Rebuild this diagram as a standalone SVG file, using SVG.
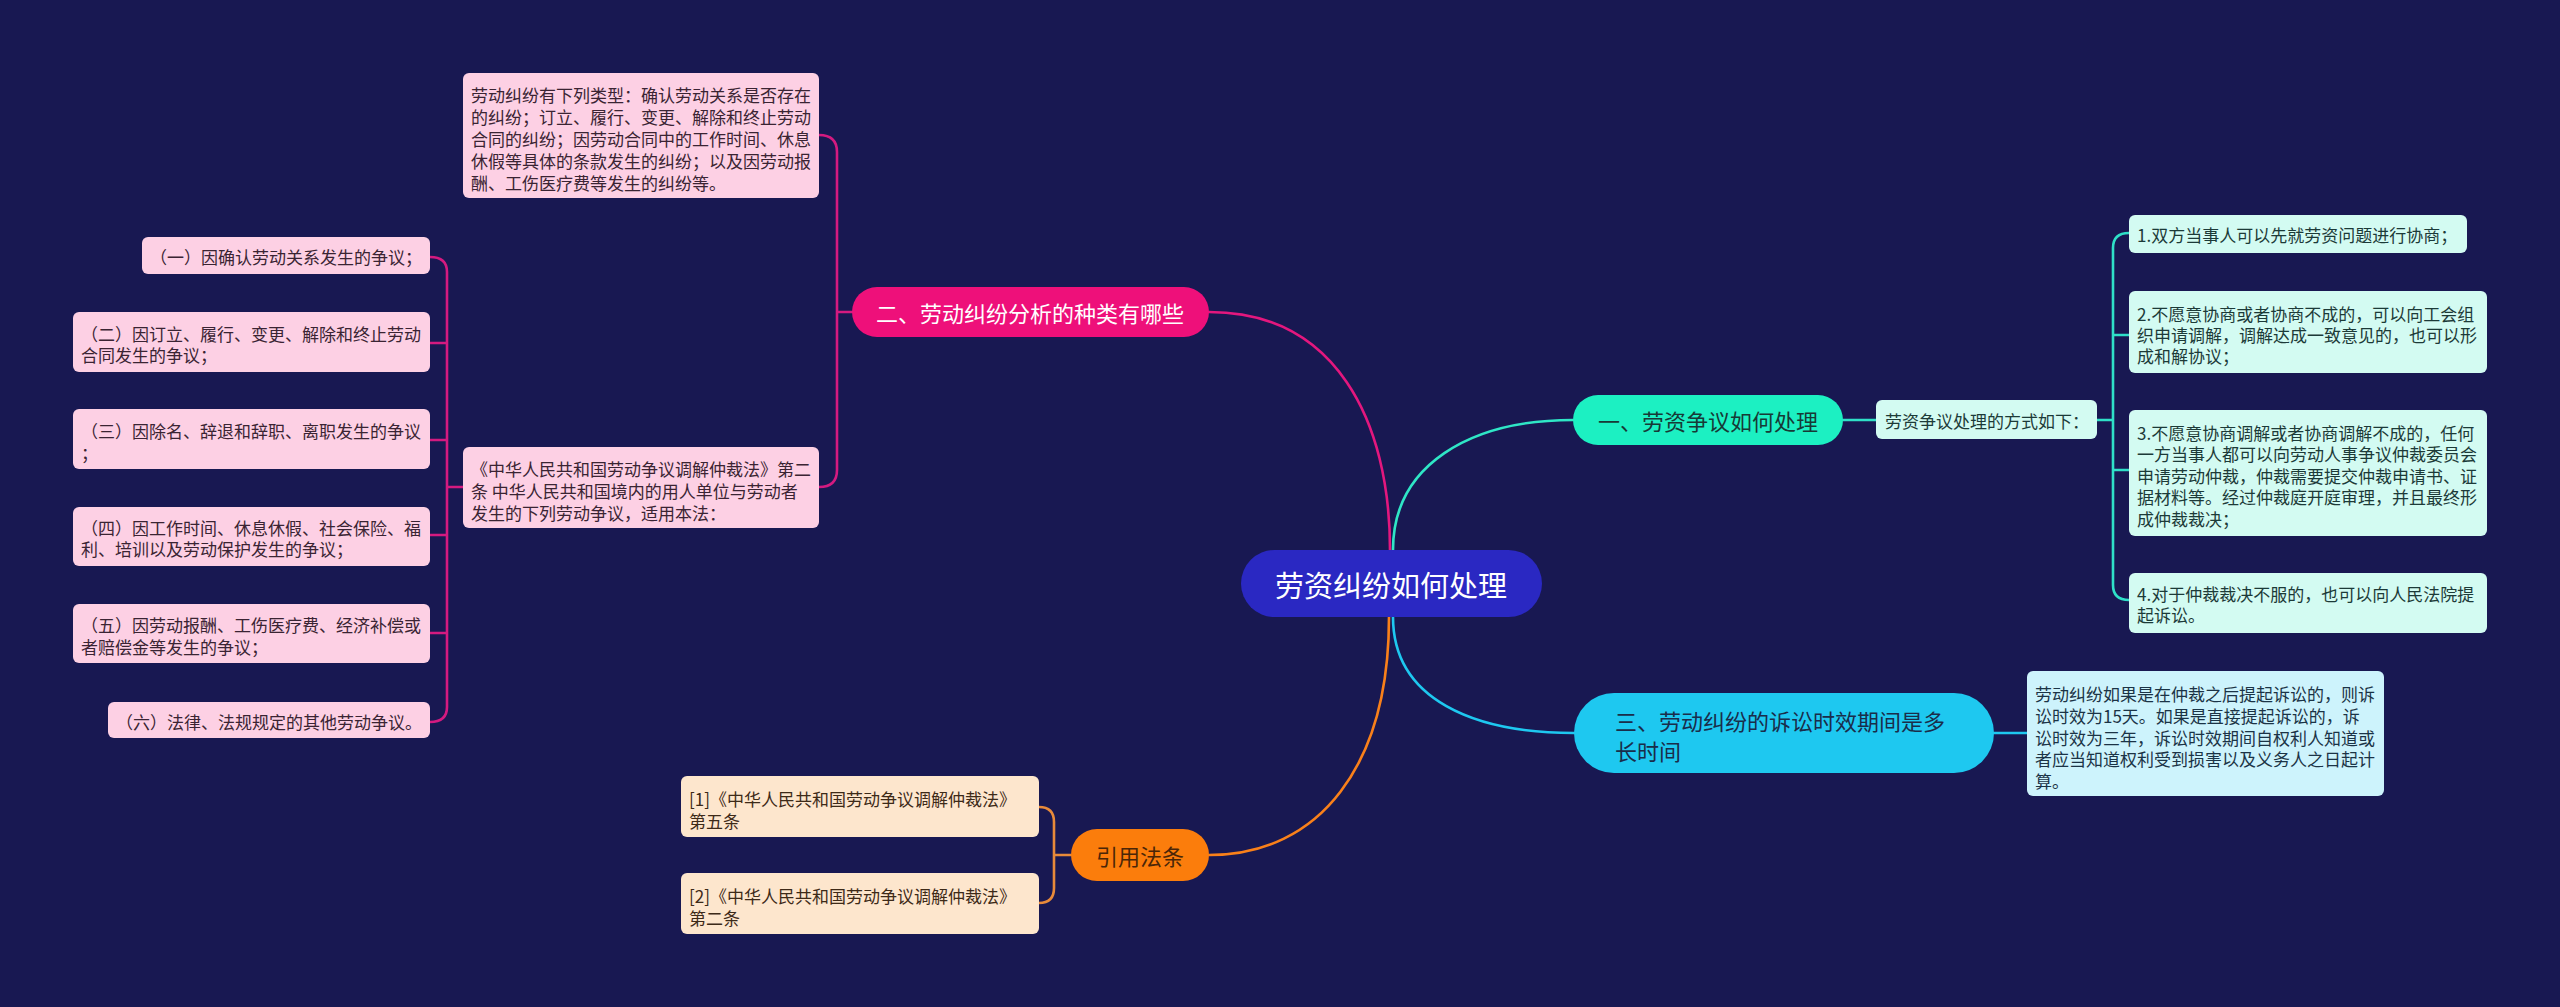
<svg xmlns="http://www.w3.org/2000/svg" width="2560" height="1007" viewBox="0 0 2560 1007">
<style>
text{font-family:"Noto Sans CJK SC","Noto Sans",sans-serif;dominant-baseline:central}
.leaf{font-size:17px}
.pk{fill:#fdd0e4}
.pkt{fill:#3a2433}
.tl{fill:#d3fbf2}
.tlt{fill:#1c3a38}
.cy{fill:#cdf3fc}
.cyt{fill:#1b3346}
.or{fill:#fde6cd}
.ort{fill:#3d2a18}
.ln{fill:none;stroke-width:2.6;stroke-linecap:round}
</style>
<rect width="2560" height="1007" fill="#181852"/>
<g id="connectors">
<path class="ln" stroke="#e3177e" stroke-width="3" d="M1209,312 C1335,312 1390,420 1390,550"/>
<path class="ln" stroke="#2fe6c6" stroke-width="3" d="M1393,550 C1393,465 1470,420 1573,420"/>
<path class="ln" stroke="#1ec8f0" stroke-width="3" d="M1393,617 C1393,700 1475,733 1574,733"/>
<path class="ln" stroke="#f9801a" stroke-width="3" d="M1389,617 C1389,765 1320,855 1209,855"/>
<path class="ln" stroke="#d41a80" d="M819,135 Q837,135 837,152 L837,470 Q837,487 819,487 M837,312 H852"/>
<path class="ln" stroke="#d41a80" d="M430,257 Q447,257 447,272 L447,707 Q447,722 430,722 M430,343 H447 M430,440 H447 M430,535 H447 M430,633 H447 M447,487 H463"/>
<path class="ln" stroke="#2fe0c8" d="M1843,420 H1876 M2097,420 H2113 M2129,233 Q2113,233 2113,248 L2113,585 Q2113,600 2129,600 M2113,335 H2129 M2113,470 H2129"/>
<path class="ln" stroke="#1ec8f0" d="M1994,733 H2027"/>
<path class="ln" stroke="#e88a3a" d="M1039,807 Q1054,807 1054,822 L1054,888 Q1054,903 1039,903 M1054,855 H1071"/>
</g>
<g id="root">
<rect x="1241" y="550" width="301" height="67" rx="33.5" fill="#2a28c2"/>
<text x="1391" y="584" font-size="29" fill="#ffffff" text-anchor="middle">劳资纠纷如何处理</text>
</g>
<g id="n1">
<rect x="1573" y="395" width="270" height="50" rx="25" fill="#1cf0c2"/>
<text x="1708" y="420" font-size="22" fill="#173a36" text-anchor="middle">一、劳资争议如何处理</text>
</g>
<g id="n1a">
<rect class="tl" x="1876" y="400" width="221" height="39" rx="6"/>
<text class="leaf tlt" x="1885" y="420">劳资争议处理的方式如下：</text>
</g>
<g id="n1a1">
<rect class="tl" x="2129" y="215" width="338" height="38" rx="6"/>
<text class="leaf tlt" x="2137" y="234">1.双方当事人可以先就劳资问题进行协商；</text>
</g>
<g id="n1a2">
<rect class="tl" x="2129" y="291" width="358" height="82" rx="6"/>
<text class="leaf tlt" x="2137" y="313">2.不愿意协商或者协商不成的，可以向工会组</text>
<text class="leaf tlt" x="2137" y="334">织申请调解，调解达成一致意见的，也可以形</text>
<text class="leaf tlt" x="2137" y="355">成和解协议；</text>
</g>
<g id="n1a3">
<rect class="tl" x="2129" y="410" width="358" height="126" rx="6"/>
<text class="leaf tlt" x="2137" y="432">3.不愿意协商调解或者协商调解不成的，任何</text>
<text class="leaf tlt" x="2137" y="453">一方当事人都可以向劳动人事争议仲裁委员会</text>
<text class="leaf tlt" x="2137" y="475">申请劳动仲裁，仲裁需要提交仲裁申请书、证</text>
<text class="leaf tlt" x="2137" y="496">据材料等。经过仲裁庭开庭审理，并且最终形</text>
<text class="leaf tlt" x="2137" y="518">成仲裁裁决；</text>
</g>
<g id="n1a4">
<rect class="tl" x="2129" y="573" width="358" height="60" rx="6"/>
<text class="leaf tlt" x="2137" y="593">4.对于仲裁裁决不服的，也可以向人民法院提</text>
<text class="leaf tlt" x="2137" y="614">起诉讼。</text>
</g>
<g id="n2">
<rect x="852" y="287" width="357" height="50" rx="25" fill="#ee107a"/>
<text x="1030" y="312" font-size="22" fill="#ffffff" text-anchor="middle">二、劳动纠纷分析的种类有哪些</text>
</g>
<g id="n2a">
<rect class="pk" x="463" y="73" width="356" height="125" rx="6"/>
<text class="leaf pkt" x="471" y="94">劳动纠纷有下列类型：确认劳动关系是否存在</text>
<text class="leaf pkt" x="471" y="116">的纠纷；订立、履行、变更、解除和终止劳动</text>
<text class="leaf pkt" x="471" y="138">合同的纠纷；因劳动合同中的工作时间、休息</text>
<text class="leaf pkt" x="471" y="160">休假等具体的条款发生的纠纷；以及因劳动报</text>
<text class="leaf pkt" x="471" y="182">酬、工伤医疗费等发生的纠纷等。</text>
</g>
<g id="n2b">
<rect class="pk" x="463" y="447" width="356" height="81" rx="6"/>
<text class="leaf pkt" x="471" y="468">《中华人民共和国劳动争议调解仲裁法》第二</text>
<text class="leaf pkt" x="471" y="490">条 中华人民共和国境内的用人单位与劳动者</text>
<text class="leaf pkt" x="471" y="512">发生的下列劳动争议，适用本法：</text>
</g>
<g id="n2b1">
<rect class="pk" x="142" y="237" width="288" height="37" rx="6"/>
<text class="leaf pkt" x="150" y="256">（一）因确认劳动关系发生的争议；</text>
</g>
<g id="n2b2">
<rect class="pk" x="73" y="312" width="357" height="60" rx="6"/>
<text class="leaf pkt" x="81" y="333">（二）因订立、履行、变更、解除和终止劳动</text>
<text class="leaf pkt" x="81" y="354">合同发生的争议；</text>
</g>
<g id="n2b3">
<rect class="pk" x="73" y="409" width="357" height="60" rx="6"/>
<text class="leaf pkt" x="81" y="430">（三）因除名、辞退和辞职、离职发生的争议</text>
<text class="leaf pkt" x="81" y="452">；</text>
</g>
<g id="n2b4">
<rect class="pk" x="73" y="507" width="357" height="59" rx="6"/>
<text class="leaf pkt" x="81" y="527">（四）因工作时间、休息休假、社会保险、福</text>
<text class="leaf pkt" x="81" y="548">利、培训以及劳动保护发生的争议；</text>
</g>
<g id="n2b5">
<rect class="pk" x="73" y="604" width="357" height="59" rx="6"/>
<text class="leaf pkt" x="81" y="624">（五）因劳动报酬、工伤医疗费、经济补偿或</text>
<text class="leaf pkt" x="81" y="646">者赔偿金等发生的争议；</text>
</g>
<g id="n2b6">
<rect class="pk" x="108" y="702" width="322" height="36" rx="6"/>
<text class="leaf pkt" x="116" y="721">（六）法律、法规规定的其他劳动争议。</text>
</g>
<g id="n3">
<rect x="1574" y="693" width="420" height="80" rx="40" fill="#1ec8f0"/>
<text x="1615" y="720" font-size="22" fill="#1a2d4a">三、劳动纠纷的诉讼时效期间是多</text>
<text x="1615" y="750" font-size="22" fill="#1a2d4a">长时间</text>
</g>
<g id="n3a">
<rect class="cy" x="2027" y="671" width="357" height="125" rx="6"/>
<text class="leaf cyt" x="2035" y="693">劳动纠纷如果是在仲裁之后提起诉讼的，则诉</text>
<text class="leaf cyt" x="2035" y="715">讼时效为15天。如果是直接提起诉讼的，诉</text>
<text class="leaf cyt" x="2035" y="737">讼时效为三年，诉讼时效期间自权利人知道或</text>
<text class="leaf cyt" x="2035" y="758">者应当知道权利受到损害以及义务人之日起计</text>
<text class="leaf cyt" x="2035" y="780">算。</text>
</g>
<g id="n4">
<rect x="1071" y="829" width="138" height="52" rx="26" fill="#fb7d0c"/>
<text x="1140" y="855" font-size="22" fill="#4a2608" text-anchor="middle">引用法条</text>
</g>
<g id="n4a">
<rect class="or" x="681" y="776" width="358" height="61" rx="6"/>
<text class="leaf ort" x="689" y="798">[1]《中华人民共和国劳动争议调解仲裁法》</text>
<text class="leaf ort" x="689" y="820">第五条</text>
</g>
<g id="n4b">
<rect class="or" x="681" y="873" width="358" height="61" rx="6"/>
<text class="leaf ort" x="689" y="895">[2]《中华人民共和国劳动争议调解仲裁法》</text>
<text class="leaf ort" x="689" y="917">第二条</text>
</g>
</svg>
